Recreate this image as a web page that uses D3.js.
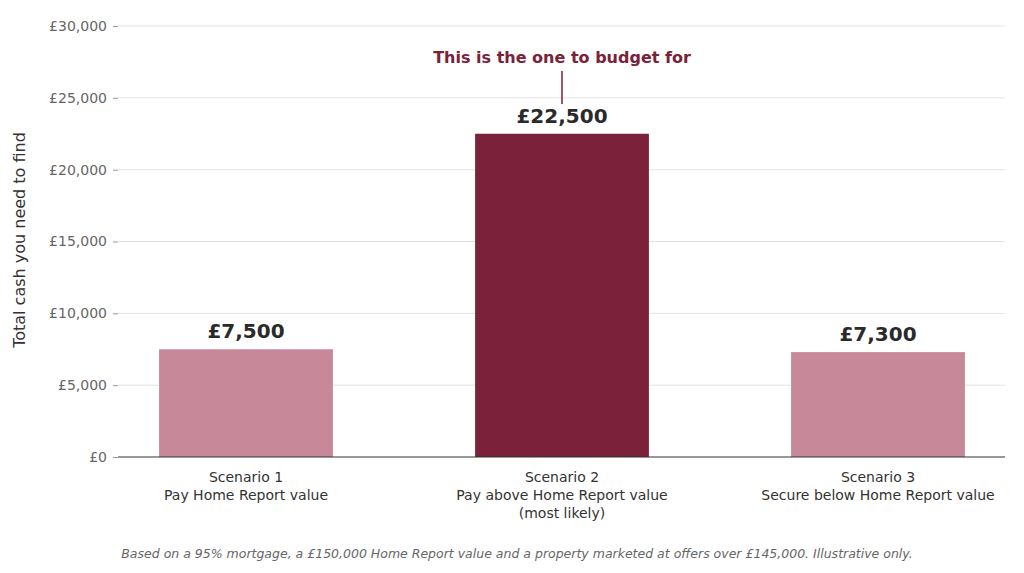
<!DOCTYPE html>
<html><head><meta charset="utf-8">
<script src="https://cdn.jsdelivr.net/npm/d3@7"></script>
<style>body{margin:0;background:#fff;font-family:"DejaVu Sans",sans-serif}</style>
</head><body><svg id="chart" width="1024" height="573"></svg>
<script>
const scenarios = ["Scenario 1", "Scenario 2", "Scenario 3"];
const subtitles = [["Pay Home Report value"], ["Pay above Home Report value", "(most likely)"], ["Secure below Home Report value"]];
const cash = [7500, 22500, 7300];
const barColors = ["#c7889a", "#7b2139", "#c7889a"];
const yTicks = [0, 5000, 10000, 15000, 20000, 25000, 30000];

const svg = d3.select("#chart");
const plotLeft = 118, plotRight = 1005, plotTop = 26, plotBottom = 457;

const x = d3.scaleBand().domain(scenarios).range([88, 1036]).paddingInner(0.45).paddingOuter(0.225);
const y = d3.scaleLinear().domain([0, 30000]).range([plotBottom, plotTop]);
const fmt = v => "£" + d3.format(",")(v);

// gridlines
svg.append("g").selectAll("line").data(yTicks.slice(1)).join("line")
  .attr("x1", plotLeft).attr("x2", plotRight)
  .attr("y1", d => y(d)).attr("y2", d => y(d))
  .attr("stroke", "#e3e3e3").attr("stroke-width", 1);

const yAxis = svg.append("g").attr("transform", `translate(${plotLeft},0)`)
  .call(d3.axisLeft(y).tickValues(yTicks).tickFormat(fmt).tickSize(5).tickPadding(6));
yAxis.select(".domain").remove();
yAxis.selectAll("line").attr("stroke", "#999");
yAxis.selectAll("text").attr("fill", "#666").style("font-size", "14px").style("font-family", "DejaVu Sans");

svg.append("text").attr("transform", "translate(25,240) rotate(-90)")
  .attr("text-anchor", "middle").attr("fill", "#333").style("font-size", "16px")
  .text("Total cash you need to find");

svg.append("g").selectAll("rect").data(cash).join("rect")
  .attr("x", (d, i) => x(scenarios[i])).attr("width", x.bandwidth())
  .attr("y", d => y(d)).attr("height", d => y(0) - y(d))
  .attr("fill", (d, i) => barColors[i]);

svg.append("g").selectAll("text").data(cash).join("text")
  .attr("x", (d, i) => x(scenarios[i]) + x.bandwidth() / 2)
  .attr("y", d => y(d) - 11).attr("text-anchor", "middle")
  .attr("fill", "#2a2a2a").style("font-size", "20px").style("font-weight", "bold")
  .text(fmt);

svg.append("line").attr("x1", plotLeft).attr("x2", plotRight).attr("y1", plotBottom).attr("y2", plotBottom)
  .attr("stroke", "#333").attr("stroke-width", 1.2);

// x labels
scenarios.forEach((s, i) => {
  const cx = x(s) + x.bandwidth() / 2;
  const t = svg.append("text").attr("text-anchor", "middle").attr("fill", "#333").style("font-size", "14px");
  [s].concat(subtitles[i]).forEach((line, j) => {
    t.append("tspan").attr("x", cx).attr("y", 482 + j * 18).text(line);
  });
});

// annotation
const cx2 = x(scenarios[1]) + x.bandwidth() / 2;
svg.append("line").attr("x1", cx2).attr("x2", cx2).attr("y1", 71).attr("y2", 104)
  .attr("stroke", "#7b2139").attr("stroke-width", 1.5);
svg.append("text").attr("x", cx2).attr("y", 63).attr("text-anchor", "middle")
  .attr("fill", "#7b2139").style("font-size", "16px").style("font-weight", "bold")
  .text("This is the one to budget for");

svg.append("text").attr("x", 517).attr("y", 558).attr("text-anchor", "middle")
  .attr("fill", "#666").style("font-size", "12.5px").style("font-style", "italic")
  .text("Based on a 95% mortgage, a £150,000 Home Report value and a property marketed at offers over £145,000. Illustrative only.");
</script></body></html>
